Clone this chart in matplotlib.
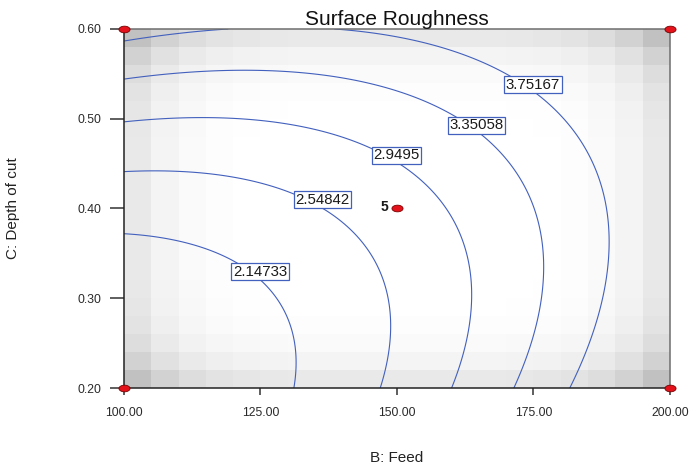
"""Contour plot of the surface roughness response (Feed vs Depth of cut)."""

import matplotlib.pyplot as plt
import numpy as np
from matplotlib.path import Path

plt.rcParams["font.family"] = ["Liberation Sans", "DejaVu Sans"]

# factor ranges in actual units
feed_range = [100.0, 200.0]
depth_range = [0.20, 0.60]

# quadratic model fitted in coded units (-1..1): intercept, B, C, BC, B^2, C^2
coef_b0 = 2.767
coef_b = 0.93
coef_c = 0.59
coef_bc = -0.54
coef_bb = 0.46
coef_cc = 0.46

contour_levels = [2.14733, 2.54842, 2.9495, 3.35058, 3.75167]
contour_text = ["2.14733", "2.54842", "2.9495", "3.35058", "3.75167"]

# where the level labels sit (feed, depth)
label_feed = [124.9, 136.3, 149.9, 164.6, 174.9]
label_depth = [0.3293, 0.4095, 0.4596, 0.493, 0.5376]

# design points shown on the plot
design_feed = [100.0, 100.0, 200.0, 200.0, 150.0]
design_depth = [0.20, 0.60, 0.20, 0.60, 0.40]
center_runs = 5

# relative standard error shading (darker toward edges and corners)
se_edge = 0.12
se_corner = 0.10
shade_cells = 20

LINE_BLUE = "#4260bd"


def coded(feed, depth):
    x = (feed - np.mean(feed_range)) / (np.diff(feed_range)[0] / 2)
    y = (depth - np.mean(depth_range)) / (np.diff(depth_range)[0] / 2)
    return x, y


def roughness(feed, depth):
    x, y = coded(feed, depth)
    return (coef_b0 + coef_b * x + coef_c * y + coef_bc * x * y
            + coef_bb * x ** 2 + coef_cc * y ** 2)


def main():
    fig = plt.figure(figsize=(6.9, 4.69), dpi=100)
    ax = fig.add_axes([0.1797, 0.1727, 0.7913, 0.7655])

    # blocky std-error background
    fe = np.linspace(*feed_range, shade_cells + 1)
    de = np.linspace(*depth_range, shade_cells + 1)
    fc = (fe[:-1] + fe[1:]) / 2
    dc = (de[:-1] + de[1:]) / 2
    FC, DC = np.meshgrid(fc, dc)
    xc, yc = coded(FC, DC)
    dark = se_edge * (xc ** 6 + yc ** 6) + se_corner * (xc * yc) ** 4
    ax.pcolormesh(fe, de, 1 - dark, cmap="gray", vmin=0, vmax=1, shading="flat", zorder=0)

    # response contours
    F, D = np.meshgrid(np.linspace(*feed_range, 301), np.linspace(*depth_range, 301))
    ax.contour(F, D, roughness(F, D), levels=contour_levels,
               colors=LINE_BLUE, linewidths=0.8, zorder=2)
    for fx, dy, txt in zip(label_feed, label_depth, contour_text):
        ax.text(fx, dy, txt, ha="center", va="center", fontsize=10.8, color="#1a1a1a",
                bbox=dict(boxstyle="square,pad=0.1", fc="white", ec=LINE_BLUE, lw=0.9),
                zorder=4)

    # design points
    theta = np.linspace(0, 2 * np.pi, 41)
    ellipse = Path(np.column_stack([np.cos(theta), 0.6 * np.sin(theta)]), closed=True)
    ax.plot(design_feed, design_depth, linestyle="none", marker=ellipse, ms=8,
            mfc="#e3121b", mec="#7a0000", mew=0.6, clip_on=False, zorder=6)
    ax.annotate(str(center_runs), (design_feed[-1], design_depth[-1]), xytext=(-6, 1),
                textcoords="offset points", ha="right", va="center",
                fontsize=10, fontweight="bold", color="#1a1a1a")

    ax.set_xlim(feed_range)
    ax.set_ylim(depth_range)
    ax.set_xticks([100, 125, 150, 175, 200])
    ax.set_xticklabels([f"{v:.2f}" for v in [100, 125, 150, 175, 200]])
    ax.set_yticks([0.2, 0.3, 0.4, 0.5, 0.6])
    ax.set_yticklabels([f"{v:.2f}" for v in [0.2, 0.3, 0.4, 0.5, 0.6]])
    ax.tick_params(axis="x", length=5, width=1.1, pad=9, labelsize=8.8,
                   color="#333333", labelcolor="#2a2a2a")
    ax.tick_params(axis="y", length=10, width=1.1, pad=6, labelsize=8.8,
                   color="#333333", labelcolor="#2a2a2a")

    for side in ["left", "bottom"]:
        ax.spines[side].set_color("#222222")
        ax.spines[side].set_linewidth(1.1)
    for side in ["top", "right"]:
        ax.spines[side].set_color("#6e6e6e")
        ax.spines[side].set_linewidth(1.1)

    ax.set_title("Surface Roughness", fontsize=15, pad=3, color="#111111")
    ax.set_xlabel("B: Feed", fontsize=11, color="#222222")
    ax.xaxis.set_label_coords(0.5, -0.175)
    ax.set_ylabel("C: Depth of cut", fontsize=11, color="#222222")
    ax.yaxis.set_label_coords(-0.19, 0.5)

    fig.savefig("out.png", dpi=100)
    plt.close(fig)


if __name__ == "__main__":
    main()
